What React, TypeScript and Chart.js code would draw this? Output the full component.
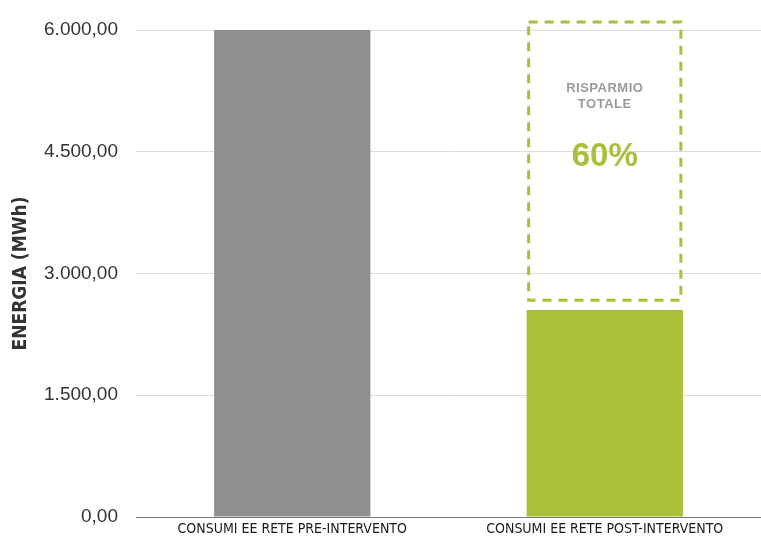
import React, { useEffect, useRef } from "react";
import { Chart, registerables } from "chart.js";

Chart.register(...registerables);

const categories = ["CONSUMI EE RETE PRE-INTERVENTO", "CONSUMI EE RETE POST-INTERVENTO"];
const energyValues = [6000, 2550];
const barColors = ["#8f8f8f", "#a9c03b"];
const yTicks = [0, 1500, 3000, 4500, 6000];
const savingsRange = [2670, 6100];
const savingsLabel = ["RISPARMIO", "TOTALE"];
const savingsPercent = "60%";
const yTitle = "ENERGIA (MWh)";

const fmt = (v: number) =>
  v.toLocaleString("it-IT", { minimumFractionDigits: 2, maximumFractionDigits: 2 });

const savingsPlugin = {
  id: "savingsBox",
  afterDatasetsDraw(chart: any) {
    const { ctx, scales } = chart;
    const meta = chart.getDatasetMeta(0);
    const bar = meta.data[1];
    const half = bar.width / 2;
    const left = bar.x - half;
    const right = bar.x + half;
    const top = scales.y.getPixelForValue(savingsRange[1]);
    const bottom = scales.y.getPixelForValue(savingsRange[0]);
    ctx.save();
    ctx.strokeStyle = "#a9c03b";
    ctx.lineWidth = 3;
    ctx.setLineDash([9, 7]);
    ctx.strokeRect(left + 2, top, right - left - 4, bottom - top);
    ctx.setLineDash([]);
    ctx.textAlign = "center";
    ctx.textBaseline = "middle";
    ctx.fillStyle = "#9a9a9a";
    (ctx as any).letterSpacing = "0.5px";
    ctx.font = "bold 13px 'Liberation Sans', Arial, sans-serif";
    ctx.fillText(savingsLabel[0], bar.x, top + 67);
    ctx.fillText(savingsLabel[1], bar.x, top + 83);
    (ctx as any).letterSpacing = "0px";
    ctx.fillStyle = "#a9c03b";
    ctx.font = "bold 33px 'Liberation Sans', Arial, sans-serif";
    ctx.fillText(savingsPercent, bar.x, top + 135);
    ctx.restore();
  },
};

export default function App() {
  const ref = useRef<HTMLCanvasElement>(null);
  useEffect(() => {
    document.body.style.margin = "0";
    const chart = new Chart(ref.current!, {
      type: "bar",
      data: {
        labels: categories,
        datasets: [
          {
            data: energyValues,
            backgroundColor: barColors,
            barPercentage: 0.5,
            categoryPercentage: 1,
          },
        ],
      },
      options: {
        animation: false,
        responsive: false,
        layout: { padding: { top: 30, right: 0, bottom: 0, left: 10 } },
        plugins: { legend: { display: false }, tooltip: { enabled: false } },
        scales: {
          x: {
            grid: { display: false, drawTicks: false },
            border: { display: true, color: "#777", width: 1 },
            afterFit: (axis: any) => {
              axis.height = 24;
            },
            ticks: {
              color: "#1a1a1a",
              padding: 4,
              font: { family: "'Liberation Sans Narrow', 'DejaVu Sans Condensed', sans-serif", size: 14 },
              maxRotation: 0,
            },
          },
          y: {
            min: 0,
            max: 6000,
            afterBuildTicks: (axis: any) => {
              axis.ticks = yTicks.map((v) => ({ value: v }));
            },
            afterFit: (axis: any) => {
              axis.width = 126;
              axis.paddingTop = 0;
              axis.paddingBottom = 0;
            },
            grid: { color: "#dcdcdc", drawTicks: false, lineWidth: 1 },
            border: { display: false },
            ticks: {
              color: "#333",
              padding: 18,
              font: { family: "'Liberation Sans', Arial, sans-serif", size: 19 },
              callback: (v: any) => fmt(Number(v)),
            },
            title: {
              display: true,
              text: yTitle,
              color: "#333",
              padding: { top: 0, bottom: 12 },
              font: { family: "'Liberation Sans Narrow', 'DejaVu Sans Condensed', sans-serif", size: 19, weight: "bold" },
            },
          },
        },
      },
      plugins: [savingsPlugin],
    });
    return () => chart.destroy();
  }, []);
  return (
    <div style={{ width: 761, height: 541 }}>
      <canvas ref={ref} width={761} height={541} />
    </div>
  );
}
